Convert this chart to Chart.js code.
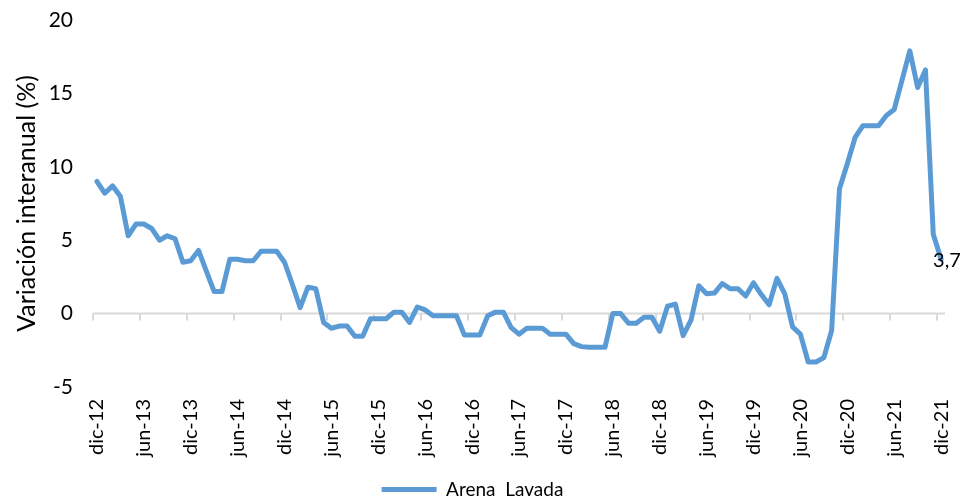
<!DOCTYPE html>
<html>
<head>
<meta charset="utf-8">
<script src="https://cdn.jsdelivr.net/npm/chart.js@4.4.1/dist/chart.umd.min.js"></script>
<style>
  html, body { margin: 0; padding: 0; background: #ffffff; }
  #wrap { width: 966px; height: 498px; position: relative; }
</style>
</head>
<body>
<div id="wrap"><canvas id="chart"></canvas></div>
<script>
// series: Arena Lavada, variación interanual (%), dic-12 .. dic-21
const monthNames = ['ene', 'feb', 'mar', 'abr', 'may', 'jun', 'jul', 'ago', 'sep', 'oct', 'nov', 'dic'];
const firstMonth = 11;   // dic
const firstYear = 12;    // 2012
const values = [
  9.0, 8.2, 8.7, 8.0, 5.3, 6.1, 6.1, 5.8, 5.0, 5.3, 5.1, 3.5,
  3.6, 4.3, 2.9, 1.5, 1.5, 3.7, 3.7, 3.6, 3.6, 4.25, 4.25, 4.25,
  3.5, 2.0, 0.4, 1.8, 1.7, -0.6, -1.0, -0.85, -0.85, -1.55, -1.55, -0.35,
  -0.35, -0.35, 0.1, 0.1, -0.6, 0.45, 0.25, -0.15, -0.15, -0.15, -0.15, -1.45,
  -1.45, -1.45, -0.15, 0.1, 0.1, -0.95, -1.4, -1.0, -1.0, -1.0, -1.4, -1.4,
  -1.4, -2.05, -2.25, -2.3, -2.3, -2.3, 0.0, 0.0, -0.65, -0.65, -0.25, -0.25,
  -1.2, 0.5, 0.65, -1.5, -0.45, 1.9, 1.35, 1.4, 2.05, 1.7, 1.7, 1.2,
  2.1, 1.3, 0.6, 2.4, 1.35, -0.9, -1.4, -3.3, -3.3, -3.0, -1.15, 8.5,
  10.2, 12.0, 12.8, 12.8, 12.8, 13.5, 13.9, 15.9, 17.9, 15.4, 16.6, 5.4,
  3.7
];
const seriesName = 'Arena  Lavada';
const yTicks = [-5, 0, 5, 10, 15, 20];
const labelEvery = 6;
const lastLabel = '3,7';

const lineColor = '#5B9BD5';
const textColor = '#000000';

const categories = values.map((v, i) => {
  const m = firstMonth + i;
  return monthNames[m % 12] + '-' + (firstYear + Math.floor(m / 12));
});

Chart.defaults.font.family = 'Lato, "Open Sans", sans-serif';
Chart.defaults.color = textColor;

// Excel style horizontal axis at zero with tick marks between categories
const zeroAxis = {
  id: 'zeroAxis',
  beforeDatasetsDraw(chart) {
    const { ctx, chartArea } = chart;
    const x = chart.scales.x;
    const y0 = chart.scales.y.getPixelForValue(0);
    const half = (x.getPixelForValue(1) - x.getPixelForValue(0)) / 2;
    ctx.save();
    ctx.strokeStyle = '#d9d9d9';
    ctx.lineWidth = 2;
    ctx.beginPath();
    ctx.moveTo(chartArea.left, y0);
    ctx.lineTo(chartArea.right, y0);
    for (let i = 0; i < categories.length; i += labelEvery) {
      const px = Math.round(x.getPixelForValue(i) - half);
      ctx.moveTo(px, y0);
      ctx.lineTo(px, y0 + 7);
    }
    ctx.stroke();
    ctx.restore();
  },
  afterDatasetsDraw(chart) {
    const { ctx } = chart;
    const meta = chart.getDatasetMeta(0);
    const pt = meta.data[meta.data.length - 1];
    ctx.save();
    ctx.fillStyle = textColor;
    ctx.font = '20px Lato, "Open Sans", sans-serif';
    ctx.textAlign = 'left';
    ctx.textBaseline = 'middle';
    ctx.fillText(lastLabel, pt.x - 8, pt.y + 1);
    ctx.restore();
  }
};

new Chart(document.getElementById('chart'), {
  type: 'line',
  data: {
    labels: categories,
    datasets: [{
      label: seriesName,
      data: values,
      borderColor: lineColor,
      backgroundColor: lineColor,
      borderWidth: 5,
      borderJoinStyle: 'round',
      borderCapStyle: 'round',
      pointRadius: 0,
      tension: 0
    }]
  },
  options: {
    responsive: true,
    maintainAspectRatio: false,
    animation: false,
    layout: { padding: { top: 20, right: 21, bottom: -11, left: 0 } },
    plugins: {
      tooltip: { enabled: false },
      legend: {
        position: 'bottom',
        labels: {
          boxWidth: 55,
          boxHeight: 5,
          padding: 0,
          color: textColor,
          font: { size: 19 },
          generateLabels: (chart) =>
            Chart.defaults.plugins.legend.labels.generateLabels(chart)
              .map(l => ({ ...l, lineWidth: 0, fillStyle: lineColor }))
        }
      }
    },
    scales: {
      x: {
        offset: true,
        grid: { display: false, drawTicks: false },
        border: { display: false },
        ticks: {
          autoSkip: false,
          minRotation: 90,
          maxRotation: 90,
          padding: 12,
          font: { size: 20 },
          callback: (v, i) => (i % labelEvery === 0 ? categories[i] : '')
        },
        afterFit: (s) => { s.height = 93; s.paddingLeft = 0; s.paddingRight = 0; }
      },
      y: {
        min: -5,
        max: 20,
        grid: { display: false, drawTicks: false },
        border: { display: false },
        afterBuildTicks: (s) => { s.ticks = yTicks.map(v => ({ value: v })); },
        ticks: { padding: 20, font: { size: 21 } },
        title: {
          display: true,
          text: 'Variación interanual (%)',
          font: { size: 25 },
          padding: { top: 12, bottom: 0 }
        },
        afterFit: (s) => { s.width = 93; s.paddingTop = 0; s.paddingBottom = 0; }
      }
    }
  },
  plugins: [zeroAxis]
});
</script>
</body>
</html>
